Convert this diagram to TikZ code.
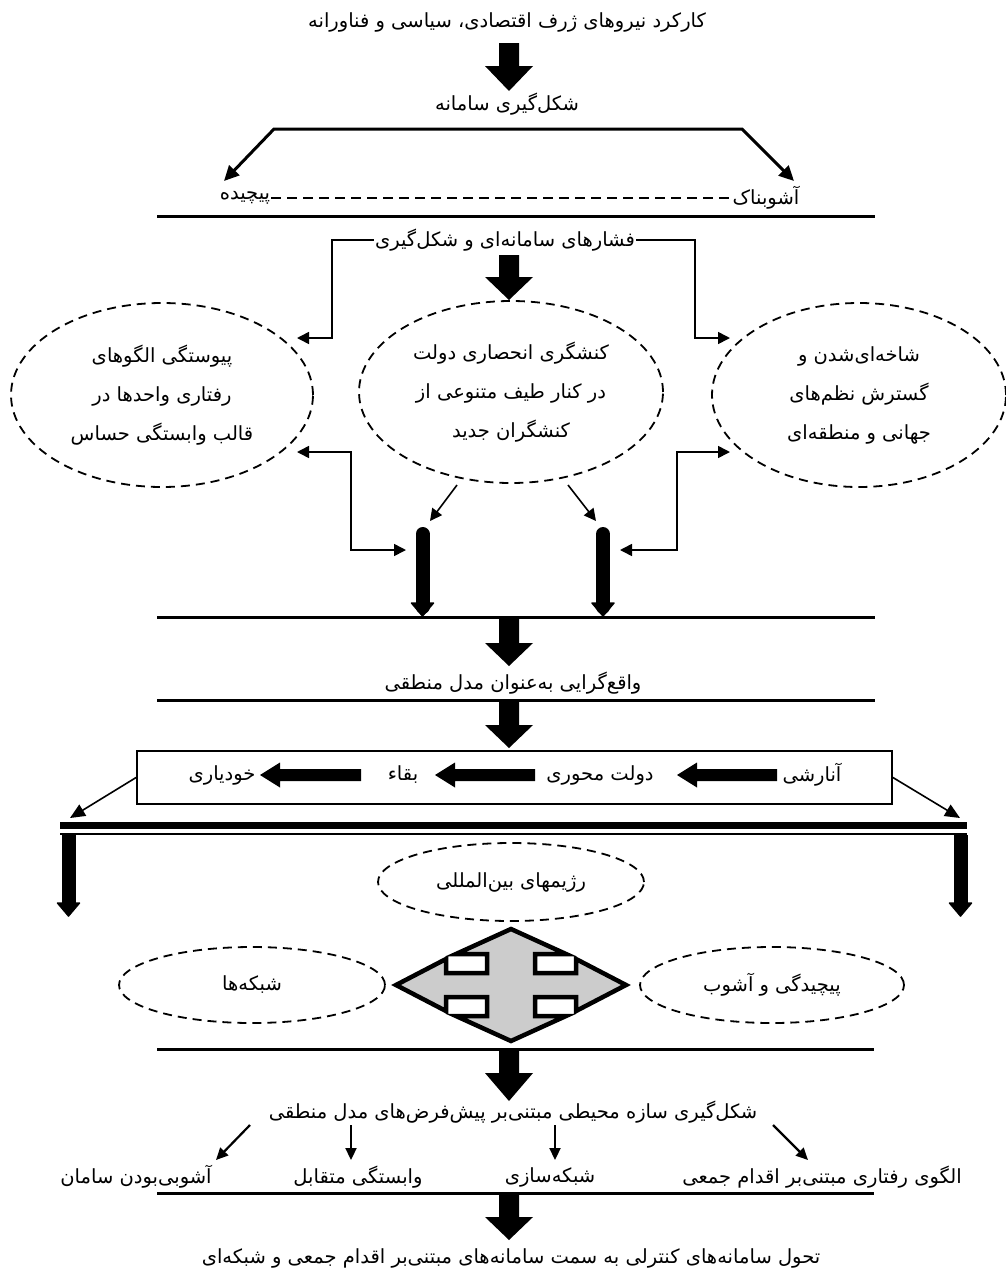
\documentclass[tikz,border=0pt]{standalone}
\usepackage{fontspec}
\usetikzlibrary{calc,arrows.meta,shapes.geometric}
\newfontfamily\fa[Script=Arabic]{DejaVu Sans}
\TeXXeTstate=1
\newcommand{\rtl}[1]{\beginR#1\endR}
% wide black block arrow pointing down, from #2 (top of shaft) to #3 (tip); #1 = head length
\newcommand{\bigdown}[3][25]{%
  \fill ($(#2)+(-10,0)$) -- ($(#2)+(10,0)$) -- ($(#3)+(10,-#1)$) -- ($(#3)+(24,-#1)$)
        -- (#3) -- ($(#3)+(-24,-#1)$) -- ($(#3)+(-10,-#1)$) -- cycle;}
% black block arrow pointing left inside the box
\newcommand{\blockleft}[2]{%
  \fill ($(#1)+(0,-6)$) -- ($(#2)+(20,-6)$) -- ($(#2)+(20,-12.5)$) -- (#2)
        -- ($(#2)+(20,12.5)$) -- ($(#2)+(20,6)$) -- ($(#1)+(0,6)$) -- cycle;}
% narrow thick bar with a small pointed end
\newcommand{\barrow}[3][round]{%
  \draw[line width=14pt, line cap=#1] (#2) -- ($(#3)+(0,-10)$);
  \filldraw[line width=1.5pt, line join=round] ($(#3)+(-11,-14)$) -- ($(#3)+(11,-14)$) -- ($(#3)+(0,-1)$) -- cycle;}

\begin{document}
\begin{tikzpicture}[x=1pt,y=-1pt,
  txt/.style={font=\fa\fontsize{19.5}{39}\selectfont, inner sep=1pt, align=center},
  sepline/.style={line width=3pt},
  tarrow/.style={line width=1.6pt, -{Triangle[length=12pt,width=12pt]}},
  darrow/.style={line width=1.6pt, {Triangle[length=12pt,width=12pt]}-{Triangle[length=12pt,width=12pt]}},
  bracket/.style={line width=3pt, {Triangle[length=15pt,width=14pt]}-{Triangle[length=15pt,width=14pt]}},
  dashell/.style={ellipse, draw, line width=1.8pt, dash pattern=on 9pt off 6pt, inner sep=0pt},
]
\useasboundingbox (0,0) rectangle (1006,1272);

% ---------- top part ----------
\node[txt] (title) at (507,22) {\rtl{کارکرد نیروهای ژرف اقتصادی، سیاسی و فناورانه}};
\node[txt] (form) at (507,104) {\rtl{شکل^^^^200cگیری سامانه}};
\coordinate (a1s) at (509,43);
\coordinate (a1e) at (509,91);
\bigdown{a1s}{a1e}

\node[txt] (cplx) at (245,198) {\rtl{پیچیده}};
\node[txt] (chaos) at (766,198) {\rtl{آشوبناک}};
\coordinate (bl) at (274,129);
\coordinate (br) at (742,129);
\coordinate (tipL) at (224,181);
\coordinate (tipR) at (794,181);
\draw[bracket, line join=miter] (tipL) -- (bl) -- (br) -- (tipR);
\draw[line width=2pt, dash pattern=on 10pt off 6pt] (cplx.east) -- (chaos.west);

\draw[sepline] (157,216) -- (875,216);

% ---------- pressures and the three ellipses ----------
\node[txt] (press) at (505,240) {\rtl{فشارهای سامانه^^^^200cای و شکل^^^^200cگیری}};
\coordinate (a2s) at (509,255);
\coordinate (a2e) at (509,300);
\bigdown[23]{a2s}{a2e}

\node[txt,dashell,minimum width=302pt,minimum height=184pt] (Lell) at (162,395)
  {\rtl{پیوستگی الگوهای}\\\rtl{رفتاری واحدها در}\\\rtl{قالب وابستگی حساس}};
\node[txt,dashell,minimum width=304pt,minimum height=182pt] (Mell) at (511,392)
  {\rtl{کنشگری انحصاری دولت}\\\rtl{در کنار طیف متنوعی از}\\\rtl{کنشگران جدید}};
\node[txt,dashell,minimum width=294pt,minimum height=184pt] (Rell) at (859,395)
  {\rtl{شاخه^^^^200cای^^^^200cشدن و}\\\rtl{گسترش نظم^^^^200cهای}\\\rtl{جهانی و منطقه^^^^200cای}};

\coordinate (pL) at (297,338);
\coordinate (pR) at (730,338);
\draw[tarrow] (press.west) -| ($(pL)+(35,0)$) -- (pL);
\draw[tarrow] (press.east) -| ($(pR)+(-35,0)$) -- (pR);

% feedback between the side ellipses and the two bars
\coordinate (bL1) at (422.5,534);
\coordinate (bL2) at (422.5,617);
\coordinate (bR1) at (603,534);
\coordinate (bR2) at (603,617);
\coordinate (fL) at (297,452);
\coordinate (fR) at (730,452);
\draw[darrow] (fL) -- (351,452) -- (351,550) -- (406,550);
\draw[darrow] (fR) -- (677,452) -- (677,550) -- (620,550);
\coordinate (m1) at (457,485);
\coordinate (m2) at (568,485);
\draw[tarrow] (m1) -- (430,521);
\draw[tarrow] (m2) -- (596,521);
\barrow{bL1}{bL2}
\barrow{bR1}{bR2}

\draw[sepline] (157,617) -- (875,617);

% ---------- realism ----------
\coordinate (a3s) at (509,617);
\coordinate (a3e) at (509,666);
\bigdown[23]{a3s}{a3e}
\node[txt] (real) at (513,683) {\rtl{واقع^^^^200cگرایی به^^^^200cعنوان مدل منطقی}};
\draw[sepline] (157,700) -- (875,700);
\coordinate (a4s) at (509,700);
\coordinate (a4e) at (509,748);
\bigdown[23]{a4s}{a4e}

% ---------- box with the chain ----------
\node[draw, line width=1.8pt, minimum width=755pt, minimum height=53pt, inner sep=0pt] (box) at (514.5,777.5) {};
\node[txt] (selfh) at (222,775) {\rtl{خودیاری}};
\node[txt] (surv) at (403,775) {\rtl{بقاء}};
\node[txt] (statec) at (600,775) {\rtl{دولت محوری}};
\node[txt] (anarch) at (812,775) {\rtl{آنارشی}};
\coordinate (k1s) at (777,775); \coordinate (k1e) at (677,775);
\coordinate (k2s) at (535,775); \coordinate (k2e) at (435,775);
\coordinate (k3s) at (361,775); \coordinate (k3e) at (260,775);
\blockleft{k1s}{k1e}
\blockleft{k2s}{k2e}
\blockleft{k3s}{k3e}

\coordinate (dL) at (70,818);
\coordinate (dR) at (960,818);
\draw[line width=1.6pt, -{Triangle[length=15pt,width=13pt]}] (box.west) -- (dL);
\draw[line width=1.6pt, -{Triangle[length=15pt,width=13pt]}] (box.east) -- (dR);

\draw[line width=7pt] (60,825.5) -- (967,825.5);
\draw[line width=2pt] (60,834) -- (967,834);
\coordinate (vL1) at (68.5,835);
\coordinate (vL2) at (68.5,917);
\coordinate (vR1) at (960.5,835);
\coordinate (vR2) at (960.5,917);
\barrow[butt]{vL1}{vL2}
\barrow[butt]{vR1}{vR2}

% ---------- regimes, networks, turbulence ----------
\node[txt,dashell,minimum width=266pt,minimum height=78pt] (regime) at (511,882) {\rtl{رژیمهای بین^^^^200cالمللی}};
\node[txt,dashell,minimum width=266pt,minimum height=76pt] (netw) at (252,985) {\rtl{شبکه^^^^200cها}};
\node[txt,dashell,minimum width=264pt,minimum height=76pt] (turb) at (772,985) {\rtl{پیچیدگی و آشوب}};

\coordinate (quad) at (511,985);
\begin{scope}[shift={(quad)}]
\filldraw[fill=black!20, line width=4.5pt, line join=miter]
  (0,-56) -- (55,-31) -- (24,-31) -- (24,-12) -- (65,-12) -- (65,-26) -- (115,0)
  -- (65,26) -- (65,12) -- (24,12) -- (24,31) -- (55,31) -- (0,56)
  -- (-55,31) -- (-24,31) -- (-24,12) -- (-65,12) -- (-65,26) -- (-115,0)
  -- (-65,-26) -- (-65,-12) -- (-24,-12) -- (-24,-31) -- (-55,-31) -- cycle;
\end{scope}

\draw[sepline] (157,1049) -- (874,1049);
\coordinate (a5s) at (509,1049);
\coordinate (a5e) at (509,1101);
\bigdown[28]{a5s}{a5e}
\node[txt] (struct) at (513,1112) {\rtl{شکل^^^^200cگیری سازه محیطی مبتنی^^^^200cبر پیش^^^^200cفرض^^^^200cهای مدل منطقی}};

\node[txt] (o1) at (136,1177) {\rtl{آشوبی^^^^200cبودن سامان}};
\node[txt] (o2) at (358,1177) {\rtl{وابستگی متقابل}};
\node[txt] (o3) at (550,1177) {\rtl{شبکه^^^^200cسازی}};
\node[txt] (o4) at (822,1177) {\rtl{الگوی رفتاری مبتنی^^^^200cبر اقدام جمعی}};
\coordinate (s1) at (250,1125);
\coordinate (s2) at (351,1125);
\coordinate (s3) at (555,1125);
\coordinate (s4) at (773,1125);
\draw[line width=2.2pt, -{Triangle[length=12pt,width=11pt]}] (s1) -- (216,1160);
\draw[line width=2.2pt, -{Triangle[length=12pt,width=11pt]}] (s2) -- (351,1160);
\draw[line width=2.2pt, -{Triangle[length=12pt,width=11pt]}] (s3) -- (555,1160);
\draw[line width=2.2pt, -{Triangle[length=12pt,width=11pt]}] (s4) -- (808,1160);

\draw[sepline] (157,1193) -- (874,1193);
\coordinate (a6s) at (509,1193);
\coordinate (a6e) at (509,1240);
\bigdown[23]{a6s}{a6e}
\node[txt] (final) at (511,1258) {\rtl{تحول سامانه^^^^200cهای کنترلی به سمت سامانه^^^^200cهای مبتنی^^^^200cبر اقدام جمعی و شبکه^^^^200cای}};
\end{tikzpicture}
\end{document}
